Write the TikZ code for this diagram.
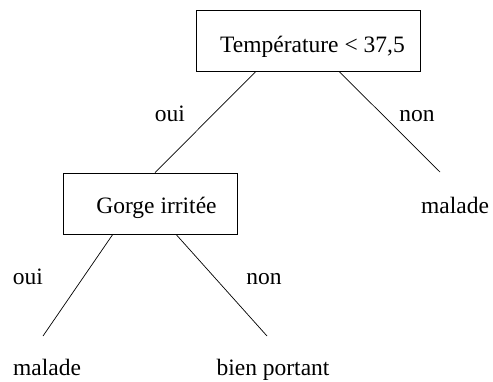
\documentclass[tikz,border=0pt]{standalone}
\usepackage{fontspec}
\setmainfont{Liberation Serif}
\newfontfamily\treefont{Liberation Serif}
\usetikzlibrary{calc}
\begin{document}
\begin{tikzpicture}[x=1pt,y=-1pt,
  every node/.style={font=\treefont\fontsize{23.5pt}{28pt}\selectfont, inner sep=0pt},
  testbox/.style={draw, line width=0.8pt, minimum height=61pt},
  answer/.style={anchor=base},
  leaf/.style={anchor=base},
  branch/.style={line width=0.7pt}]
  \useasboundingbox (0,0) rectangle (493,381);

  % decision nodes
  \node[testbox, minimum width=224pt, text height=28pt, text depth=5pt] (temp) at (308,40.5)
    {\hspace*{9pt}Température < 37,5};
  \node[testbox, minimum width=174pt, text height=24pt, text depth=5pt] (gorge) at (150,203.5)
    {\hspace*{13pt}Gorge irritée};

  % leaves
  \node[leaf] (m1) at (455,213.3) {malade};
  \node[leaf] (m2) at (47,375.3) {malade};
  \node[leaf] (bp) at (273,375.3) {bien portant};

  % free ends of the branches, just above the leaves
  \coordinate (e1) at (440,172);
  \coordinate (e2) at (43,336);
  \coordinate (e3) at (267,336);

  % branches
  \draw[branch] ($(temp.south west)!0.268!(temp.south east)$) -- ($(gorge.north west)!0.529!(gorge.north east)$);
  \draw[branch] ($(temp.south west)!0.638!(temp.south east)$) -- (e1);
  \draw[branch] ($(gorge.south west)!0.287!(gorge.south east)$) -- (e2);
  \draw[branch] ($(gorge.south west)!0.649!(gorge.south east)$) -- (e3);

  % branch labels
  \node[answer] (o1) at (170,121.5) {oui};
  \node[answer] (n1) at (417,121.5) {non};
  \node[answer] (o2) at (28,284.8) {oui};
  \node[answer] (n2) at (264,284.8) {non};
\end{tikzpicture}
\end{document}
